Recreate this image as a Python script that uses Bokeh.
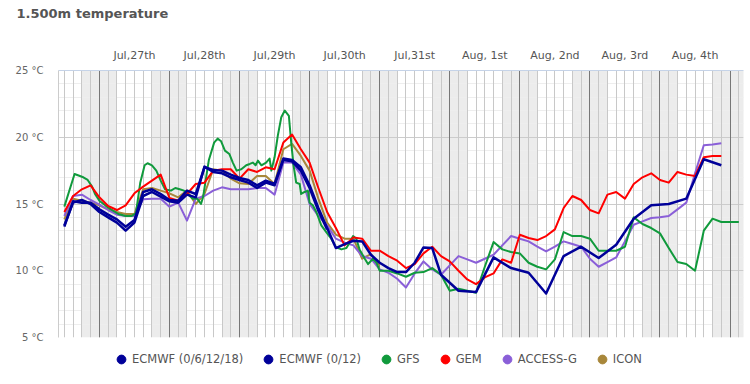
from bokeh.plotting import figure
from bokeh.layouts import column
from bokeh.models import FixedTicker, BoxAnnotation, Legend, LegendItem, Range1d, LinearAxis, Grid
from bokeh.embed import file_html
from bokeh.resources import INLINE

TITLE = "1.500m temperature"

# hours counted from Jul 26, 00:00
DAY_START_H = [24, 48, 72, 96, 120, 144, 168, 192, 216, 240]
DAY_NOON_H = [36, 60, 84, 108, 132, 156, 180, 204, 228]
DAY_LABELS = ["Jul,27th", "Jul,28th", "Jul,29th", "Jul,30th", "Jul,31st",
              "Aug, 1st", "Aug, 2nd", "Aug, 3rd", "Aug, 4th"]
Y_TICKS = [5, 10, 15, 20, 25]

SERIES_NAMES = ["ECMWF (0/6/12/18)", "ECMWF (0/12)", "GFS", "GEM", "ACCESS-G", "ICON"]
SERIES_COLORS = ["#000099", "#000099", "#109a3c", "#ff0000", "#8a5fd8", "#a8873a"]

ECMWF_6_H = list(range(12, 103, 3))
ECMWF_6_T = [13.4, 15.1, 15.3, 15.0, 14.4, 14.0, 13.6, 13.0, 13.6, 15.6,
             15.9, 15.55, 15.2, 15.1, 15.7, 15.5, 17.8, 17.4, 17.3, 17.0,
             16.8, 16.6, 16.2, 16.6, 16.4, 18.3, 18.2, 17.5, 16.2, 14.5,
             13.1]

ECMWF_12_H = list(range(12, 142, 3)) + list(range(147, 238, 6))
ECMWF_12_T = [13.3, 15.2, 15.1, 15.1, 14.6, 14.2, 13.85, 13.3, 13.8, 15.9,
              16.1, 15.75, 15.3, 15.25, 16.0, 15.75, 17.75, 17.55, 17.5, 17.2,
              16.95, 16.8, 16.4, 16.75, 16.5, 18.4, 18.3, 17.75, 16.4, 14.7,
              13.2, 11.7, 12.0, 12.25, 12.2, 11.2, 10.6, 10.2, 9.9, 9.9,
              10.6, 11.75, 11.7, 9.7,
              8.5, 8.4, 11.0, 10.2, 9.85, 8.3, 11.1, 11.8, 10.95, 11.95,
              13.9, 14.9, 15.0, 15.4, 18.35, 17.9]

GFS_H = [12, 15.5, 18.5, 20, 21.5, 22.5, 24, 26, 28, 30.5,
         33, 35, 36.5, 38, 39.5, 40.5, 42, 43.5, 45, 46.5,
         48.5, 50, 51.5, 53, 54.5, 56, 57.5, 58.8, 59.5, 61.5,
         63.3, 64.5, 65.7, 67, 68.5, 69.7, 71, 72.6, 74.3, 75.5,
         76.6, 77.5, 78.3, 79.5, 81.1, 82.3, 82.9, 84, 85.1, 86.3,
         87.5, 88.9, 89.7, 90.5, 91.4, 92.6, 93.1, 94.3, 95.4, 96,
         97.1, 98.3, 100, 101.7, 103.4, 105.1, 106.9, 108.6, 109.7, 110.9,
         112, 113.1, 114.9, 116, 117.7, 118.9, 120, 123, 126, 129,
         132, 135, 138, 141, 144, 147, 150, 153, 156, 159,
         162, 165, 168, 171, 174, 177, 180, 183, 186, 189,
         192, 195, 198, 201, 204, 207, 210, 213, 216, 219,
         222, 225, 228, 231, 234, 237, 240, 243]
GFS_T = [14.8, 17.25, 17.0, 16.8, 16.3, 15.75, 15.25, 14.9, 14.6, 14.25,
         14.1, 14.1, 14.3, 16.6, 17.9, 18.05, 17.9, 17.5, 16.75, 16.1,
         16.0, 16.2, 16.1, 16.0, 15.7, 15.4, 15.4, 15.0, 15.5, 18.3,
         19.6, 19.9, 19.7, 19.0, 18.75, 18.1, 17.5, 17.6, 17.9, 18.0,
         18.1, 17.9, 18.25, 17.9, 18.1, 18.4, 17.5, 18.5, 20.1, 21.5,
         22.0, 21.6, 19.6, 17.9, 16.6, 16.5, 15.75, 15.9, 16.0, 15.1,
         14.9, 14.4, 13.4, 12.9, 12.4, 11.75, 11.6, 11.7, 12.1, 12.6,
         12.4, 11.6, 10.9, 10.5, 10.9, 10.6, 10.0, 10.0, 9.8, 9.55,
         9.85, 9.9, 10.2, 9.7, 8.5, 8.65, 8.5, 8.35, 10.3, 12.15,
         11.6, 11.4, 11.3, 10.6, 10.3, 10.1, 10.85, 12.9, 12.6, 12.6,
         12.4, 11.5, 11.5, 11.5, 11.8, 14.0, 13.5, 13.2, 12.8, 11.7,
         10.65, 10.5, 10.0, 13.0, 13.9, 13.65, 13.65, 13.65]

GEM_H = list(range(12, 238, 3))
GEM_T = [14.4, 15.6, 16.1, 16.4, 15.5, 14.85, 14.55, 14.9, 15.8, 16.3,
         16.75, 17.2, 15.45, 15.25, 15.75, 16.5, 16.6, 17.5, 17.6, 17.6,
         16.9, 17.6, 17.4, 17.75, 17.6, 19.6, 20.2, 19.1, 18.1, 16.2,
         14.4, 13.2, 11.9, 12.5, 12.4, 11.5, 11.5, 11.1, 10.75, 10.2,
         10.5, 11.3, 11.8, 11.1, 10.7, 10.0, 9.35, 9.0, 9.5, 9.8,
         10.85, 10.6, 12.7, 12.45, 12.3, 12.6, 13.1, 14.7, 15.6, 15.3,
         14.55, 14.3, 15.7, 15.9, 15.4, 16.5, 17.0, 17.3, 16.8, 16.6,
         17.4, 17.2, 17.1, 18.5, 18.6, 18.6]

ACCESS_H = list(range(12, 238, 3))
ACCESS_T = [14.1, 15.6, 15.7, 15.3, 14.95, 14.55, 14.2, 14.1, 14.1, 15.35,
            15.4, 15.4, 14.8, 15.1, 13.75, 15.4, 15.6, 16.0, 16.25, 16.1,
            16.1, 16.1, 16.2, 16.2, 15.7, 18.1, 18.1, 17.2, 15.0, 14.1,
            13.4, 12.4, 12.1, 11.9, 11.1, 10.9, 10.1, 9.85, 9.4, 8.75,
            9.8, 10.7, 10.1, 9.7, 10.4, 11.1, 10.85, 10.6, 10.9, 11.2,
            11.9, 12.6, 12.4, 12.2, 11.8, 11.45, 11.8, 12.2, 12.0, 11.8,
            10.9, 10.3, 10.65, 11.0, 12.2, 13.45, 13.7, 13.95, 14.0, 14.1,
            14.6, 15.1, 17.3, 19.4, 19.45, 19.55]

ICON_H = list(range(12, 121, 3))
ICON_T = [13.85, 15.4, 15.25, 15.1, 14.9, 14.6, 14.4, 14.25, 14.25, 16.1,
          16.2, 16.0, 15.8, 15.5, 16.0, 15.0, 15.75, 17.6, 17.5, 16.9,
          16.55, 16.5, 17.1, 17.1, 16.5, 19.1, 19.5, 18.6, 17.5, 15.4,
          13.6, 12.7, 12.4, 12.4, 10.9, 11.25, 10.4]

p = figure(width=750, height=344, output_backend="svg", toolbar_location=None,
           x_range=Range1d(10, 244.6), y_range=Range1d(5, 25),
           x_axis_location="above", title=TITLE,
           min_border_left=58, min_border_right=7, min_border_top=70,
           min_border_bottom=7)
p.outline_line_color = None
p.background_fill_color = "white"
p.border_fill_color = "white"

p.title.text_font = "DejaVu Sans"
p.title.text_font_size = "13px"
p.title.text_font_style = "bold"
p.title.text_color = "#555555"
p.title.align = "left"
p.title.offset = -42
p.title.standoff = 0

# top axis with the day labels
xa = p.xaxis[0]
xa.ticker = FixedTicker(ticks=DAY_NOON_H, minor_ticks=[])
xa.major_label_overrides = {h: lab for h, lab in zip(DAY_NOON_H, DAY_LABELS)}
xa.major_tick_line_color = None
xa.minor_tick_line_color = None
xa.major_tick_out = 0
xa.major_tick_in = 0
xa.minor_tick_out = 0
xa.minor_tick_in = 0
xa.axis_line_color = "#c5d3e8"
xa.major_label_text_font = "DejaVu Sans"
xa.major_label_text_font_size = "11px"
xa.major_label_text_color = "#555555"
xa.major_label_standoff = 9

# blank spacer between the day labels and the title (white ticks, empty labels)
spacer = LinearAxis(ticker=FixedTicker(ticks=DAY_NOON_H, minor_ticks=[]),
                    axis_line_color=None, major_tick_line_color="white",
                    minor_tick_line_color=None, major_tick_out=25,
                    major_tick_in=0, minor_tick_out=0, minor_tick_in=0,
                    major_label_standoff=0, major_label_text_font_size="1px",
                    major_label_overrides={h: "" for h in DAY_NOON_H})
p.add_layout(spacer, "above")

ya = p.yaxis[0]
ya.ticker = FixedTicker(ticks=Y_TICKS, minor_ticks=list(range(5, 26)))
ya.major_label_overrides = {v: f"{v} °C" for v in Y_TICKS}
ya.axis_line_color = "#cccccc"
ya.major_tick_line_color = None
ya.minor_tick_line_color = None
ya.major_tick_out = 0
ya.major_tick_in = 0
ya.minor_tick_out = 0
ya.minor_tick_in = 0
ya.major_label_text_font = "DejaVu Sans"
ya.major_label_text_font_size = "10px"
ya.major_label_text_color = "#666666"
ya.major_label_standoff = 15

p.ygrid.grid_line_color = "#cccccc"
p.ygrid.minor_grid_line_color = "#eeeeee"
p.xgrid.ticker = FixedTicker(ticks=DAY_START_H, minor_ticks=list(range(12, 245, 3)))
p.xgrid.grid_line_color = "#777777"
p.xgrid.minor_grid_line_color = "#c8c8c8"

# draw the horizontal grid first so the vertical lines stay unbroken
grids_y = [r for r in p.center if isinstance(r, Grid) and r.dimension == 1]
grids_x = [r for r in p.center if isinstance(r, Grid) and r.dimension == 0]
others = [r for r in p.center if not isinstance(r, Grid)]
p.center = grids_y + grids_x + others

# night shading 18:00 - 06:00
for d in DAY_START_H:
    p.add_layout(BoxAnnotation(left=d - 6, right=d + 6, fill_color="#ececec",
                               fill_alpha=1, line_color=None, level="image"))

draw = [
    (ICON_H, ICON_T, 5, 2),
    (ACCESS_H, ACCESS_T, 4, 2),
    (GFS_H, GFS_T, 2, 2),
    (GEM_H, GEM_T, 3, 2),
    (ECMWF_12_H, ECMWF_12_T, 1, 2.5),
    (ECMWF_6_H, ECMWF_6_T, 0, 2.5),
]
for xs, ys, idx, lw in draw:
    p.line(xs, ys, line_color=SERIES_COLORS[idx], line_width=lw, line_join="round")

# legend strip below the chart
pl = figure(width=750, height=40, output_backend="svg", toolbar_location=None,
            x_range=Range1d(0, 1), y_range=Range1d(0, 1),
            x_axis_location=None, y_axis_location=None,
            min_border=0, min_border_left=0, min_border_right=0,
            min_border_top=0, min_border_bottom=0)
pl.outline_line_color = None
pl.grid.visible = False

items = []
nan = float("nan")
for name, col in zip(SERIES_NAMES, SERIES_COLORS):
    r = pl.scatter(x=[nan], y=[nan], marker="circle", size=9,
                   fill_color=col, line_color=col)
    items.append(LegendItem(label=name, renderers=[r]))

legend = Legend(items=items, orientation="horizontal", location=(52, 14),
                glyph_width=22, glyph_height=22, label_standoff=0, spacing=14,
                padding=0, margin=0, border_line_color=None,
                background_fill_alpha=0,
                label_text_font="DejaVu Sans", label_text_font_size="11.5px",
                label_text_color="#555555")
pl.add_layout(legend)

layout = column(p, pl, spacing=0)
open("out.html", "w").write(file_html(layout, INLINE))
